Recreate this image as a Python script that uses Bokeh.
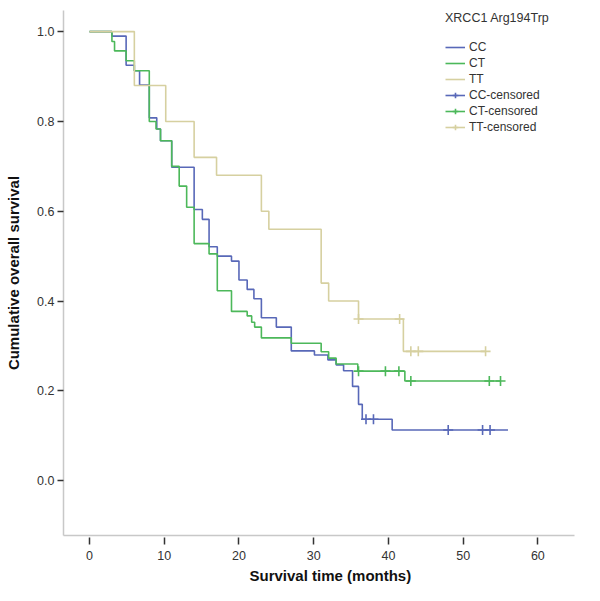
import numpy as np
from bokeh.plotting import figure
from bokeh.models import Legend, LegendItem, Range1d, FixedTicker, PrintfTickFormatter, Title
from bokeh.embed import file_html
from bokeh.resources import INLINE

# ---- data ----
cc_t = [0, 3.0, 4.9, 6.0, 6.7, 8.0, 9.0, 9.5, 11.0, 14.0, 15.1, 16.0, 17.1, 19.0, 20.0, 21.1, 22.0, 23.0,
        25.0, 27.0, 30.1, 31.9, 33.0, 34.0, 35.2, 36.0, 36.5, 40.5]
cc_s = [1.0, 0.99, 0.925, 0.913, 0.881, 0.808, 0.783, 0.757, 0.698, 0.604, 0.582, 0.521, 0.500, 0.489, 0.447,
        0.426, 0.405, 0.363, 0.342, 0.289, 0.280, 0.269, 0.258, 0.245, 0.210, 0.170, 0.137, 0.113]
cc_end = 56
cc_cens_t = [37, 38, 48, 52.6, 53.6]
cc_cens_s = [0.137, 0.137, 0.113, 0.113, 0.113]

ct_t = [0, 3.0, 3.35, 4.9, 6.0, 8.0, 8.9, 9.5, 11.0, 12.0, 13.0, 14.0, 16.0, 17.1, 19.0, 21.1, 21.7, 22.1,
        23.0, 27.0, 31.0, 32.0, 33.0, 35.9, 42.2]
ct_s = [1.0, 0.978, 0.957, 0.935, 0.913, 0.800, 0.783, 0.757, 0.700, 0.656, 0.609, 0.528, 0.505, 0.423, 0.377,
        0.367, 0.353, 0.342, 0.318, 0.306, 0.287, 0.273, 0.260, 0.244, 0.222]
ct_end = 55
ct_cens_t = [36, 39.6, 41.4, 43, 53.5, 55]
ct_cens_s = [0.244, 0.244, 0.244, 0.222, 0.222, 0.222]

tt_t = [0, 6.0, 10.2, 14.0, 17.0, 23.0, 24.0, 31.0, 32.0, 36.0, 42.0]
tt_s = [1.0, 0.88, 0.80, 0.72, 0.68, 0.60, 0.56, 0.44, 0.40, 0.36, 0.288]
tt_end = 53
tt_cens_t = [36, 41.5, 43, 44, 53]
tt_cens_s = [0.36, 0.36, 0.288, 0.288, 0.288]

groups = ["CC", "CT", "TT"]
colors = ["#5868b8", "#4cb85a", "#d6d0a0"]
x_ticks = [0, 10, 20, 30, 40, 50, 60]
y_ticks = [0.0, 0.2, 0.4, 0.6, 0.8, 1.0]

FONT = "Liberation Sans"

p = figure(width=584, height=585, output_backend="svg", toolbar_location=None,
           x_range=Range1d(-3.48, 64.9), y_range=Range1d(-0.122, 1.047),
           min_border_left=63, min_border_right=10, min_border_top=10, min_border_bottom=48)
p.outline_line_color = None
p.grid.visible = False

series = [(cc_t, cc_s, cc_end, cc_cens_t, cc_cens_s),
          (ct_t, ct_s, ct_end, ct_cens_t, ct_cens_s),
          (tt_t, tt_s, tt_end, tt_cens_t, tt_cens_s)]

step_r = []
cens_r = []
for (t, s, end, ct, cs), col in zip(series, colors):
    xs = list(t) + [end]
    ys = list(s) + [s[-1]]
    r = p.step(xs, ys, mode="after", line_color=col, line_width=1.6)
    step_r.append(r)
    c = p.scatter(ct, cs, marker="cross", size=10, line_color=col, line_width=1.6)
    cens_r.append(c)

items = []
for g, r in zip(groups, step_r):
    items.append(LegendItem(label=g, renderers=[r]))
for g, c, r in zip(groups, cens_r, step_r):
    items.append(LegendItem(label=g + "-censored", renderers=[r, c]))

legend = Legend(items=items, location=(382, 401), title="XRCC1 Arg194Trp",
                border_line_color=None, background_fill_alpha=0,
                title_text_font=FONT, title_text_font_size="12.5px", title_text_font_style="normal",
                title_text_color="#333333", title_standoff=15,
                label_text_font=FONT, label_text_font_size="12px", label_text_color="#333333",
                glyph_width=20, glyph_height=14, label_height=14, spacing=2, padding=4, margin=0,
                label_standoff=4)
p.add_layout(legend)

for ax in (p.xaxis[0], p.yaxis[0]):
    ax.axis_line_color = "#c8c8c8"
    ax.axis_line_width = 1.5
    ax.major_tick_line_color = "#333333"
    ax.major_tick_line_width = 1.5
    ax.minor_tick_line_color = None
    ax.major_label_text_font = FONT
    ax.major_label_text_font_size = "12.5px"
    ax.major_label_text_color = "#333333"
    ax.axis_label_text_font = FONT
    ax.axis_label_text_font_size = "15px"
    ax.axis_label_text_font_style = "bold"
    ax.axis_label_text_color = "#111111"

p.xaxis.ticker = FixedTicker(ticks=x_ticks)
p.yaxis.ticker = FixedTicker(ticks=y_ticks)
p.yaxis.formatter = PrintfTickFormatter(format="%.1f")
p.xaxis.major_tick_in = -2
p.xaxis.major_tick_out = 9
p.xaxis.major_label_standoff = 6
p.yaxis.major_tick_in = 0
p.yaxis.major_tick_out = 6
p.yaxis.major_label_standoff = 3
p.yaxis.axis_label_standoff = 12
p.yaxis.axis_label = "Cumulative overall survival"

xtitle = Title(text="Survival time (months)", align="left", offset=186, standoff=4,
               text_font=FONT, text_font_size="15px", text_font_style="bold", text_color="#111111")
p.add_layout(xtitle, "below")

open("out.html", "w").write(file_html(p, INLINE))
